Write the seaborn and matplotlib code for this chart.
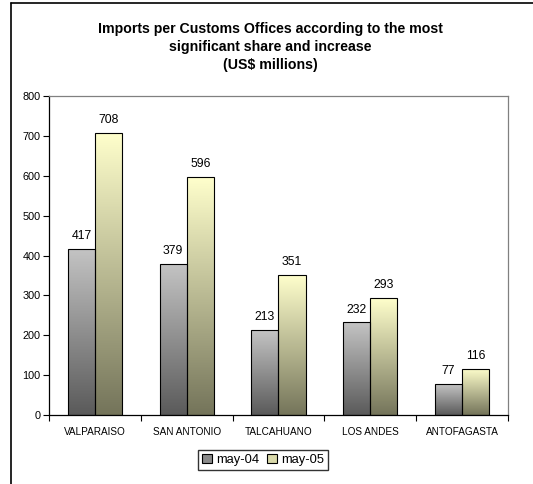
import numpy as np
import pandas as pd
import matplotlib.pyplot as plt
import seaborn as sns
from matplotlib.colors import LinearSegmentedColormap
from matplotlib.lines import Line2D
from matplotlib.patches import Patch

# chart data
offices = ["VALPARAISO", "SAN ANTONIO", "TALCAHUANO", "LOS ANDES", "ANTOFAGASTA"]
may_04 = [417, 379, 213, 232, 77]
may_05 = [708, 596, 351, 293, 116]
series = ["may-04", "may-05"]

df = pd.DataFrame({
    "office": offices * 2,
    "value": may_04 + may_05,
    "period": [series[0]] * len(offices) + [series[1]] * len(offices),
})

sns.set_style("white")
plt.rcParams["font.family"] = ["Liberation Sans", "DejaVu Sans"]
plt.rcParams.update({"text.color": "black", "xtick.color": "black",
                     "ytick.color": "black", "axes.labelcolor": "black"})

fig = plt.figure(figsize=(5.33, 4.84), dpi=100)
ax = fig.add_axes([0.092, 0.1426, 0.861, 0.659])

sns.barplot(data=df, x="office", y="value", hue="period", order=offices,
            hue_order=series, width=0.59, gap=0, legend=False,
            facecolor="none", edgecolor="black", linewidth=0.8, ax=ax)

# gradients: light at top, dark at bottom
cmaps = {
    series[0]: LinearSegmentedColormap.from_list("g", ["#5a5a5a", "#c4c4c4"]),
    series[1]: LinearSegmentedColormap.from_list("y", ["#74745a", "#ffffcc"]),
}
grad = np.linspace(0, 1, 256).reshape(-1, 1)
for i, bar in enumerate(ax.patches[:2 * len(offices)]):
    name = series[i // len(offices)]
    bar.set_facecolor("none")
    bar.set_zorder(3)
    x0, y0 = bar.get_x(), bar.get_y()
    w, h = bar.get_width(), bar.get_height()
    im = ax.imshow(grad, cmap=cmaps[name], origin="lower", aspect="auto",
                   extent=[x0, x0 + w, y0, y0 + h], zorder=2)
    im.set_clip_path(bar)

for c in ax.containers:
    ax.bar_label(c, padding=5, fontsize=8.8)

ax.set_xlim(-0.5, len(offices) - 0.5)
ax.set_ylim(0, 800)
ax.set_yticks(range(0, 801, 100))
ax.set_xlabel("")
ax.set_ylabel("")
ax.tick_params(axis="y", left=True, length=4, width=0.8, labelsize=7.8, pad=2)
ax.tick_params(axis="x", which="major", length=0, labelsize=7.2, pad=9)
ax.set_xticks(np.arange(-0.5, len(offices)), minor=True)
ax.tick_params(axis="x", which="minor", bottom=True, length=4, width=0.8)

for s in ["left", "bottom"]:
    ax.spines[s].set_color("black")
    ax.spines[s].set_linewidth(0.9)
for s in ["top", "right"]:
    ax.spines[s].set_color("#808080")
    ax.spines[s].set_linewidth(0.9)

fig.text(0.507, 0.903,
         "Imports per Customs Offices according to the most\n"
         "significant share and increase\n(US$ millions)",
         ha="center", va="center", fontsize=10.2, fontweight="bold",
         linespacing=1.36)

handles = [Patch(facecolor="#8a8a8a", edgecolor="black", linewidth=0.8),
           Patch(facecolor="#d9d9aa", edgecolor="black", linewidth=0.8)]
fig.legend(handles, series, loc="center", bbox_to_anchor=(0.493, 0.05),
           ncol=2, fontsize=9.3, frameon=True, fancybox=False, edgecolor="black",
           handlelength=0.8, handleheight=0.8, handletextpad=0.3,
           columnspacing=0.6, borderpad=0.3)

# outer frame (left and top edges)
fig.add_artist(Line2D([0.021, 0.021], [0, 0.994], color="black", lw=1.2))
fig.add_artist(Line2D([0.021, 1.0], [0.994, 0.994], color="black", lw=1.2))

fig.savefig("out.png", dpi=100)
